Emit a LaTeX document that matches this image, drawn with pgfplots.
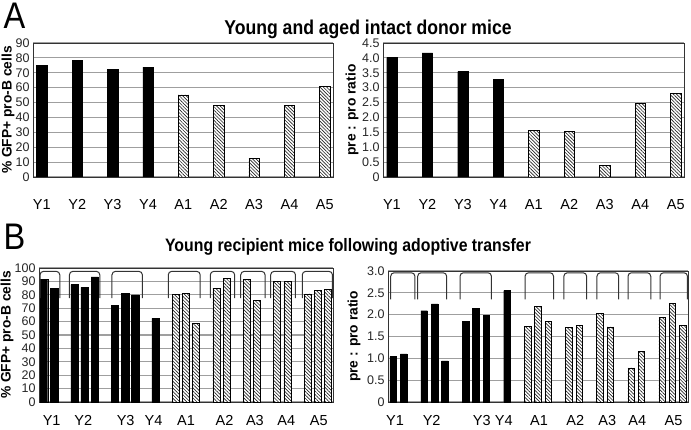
\documentclass[border=0pt]{standalone}
\usepackage{fontspec}
\setmainfont{Liberation Sans}
\newfontfamily\narrowfont[FakeStretch=0.88]{Liberation Sans}
\usepackage{pgfplots}
\pgfplotsset{compat=1.18}
\usetikzlibrary{patterns.meta}

\pgfplotsset{
  panel/.style={
    scale only axis, anchor=south west,
    axis line style={black!80, line width=0.8pt},
    ymajorgrids, grid style={gray!75, line width=1.1pt},
    major tick length=0pt,
    yticklabel style={font=\fontsize{12.5}{12.5}\selectfont, text=black!85},
    xticklabel style={font=\fontsize{14.5}{14.5}\selectfont},
    ylabel style={font=\bfseries\fontsize{13.8}{14}\selectfont, anchor=center},
    /pgf/number format/assume math mode=true,
    ymin=0,
  },
  blackbar/.style={ybar, bar shift=0pt, fill=black, draw=black},
  hatchbar/.style={ybar, bar shift=0pt, fill=white, draw=black, line width=0.7pt,
     postaction={pattern={Lines[angle=-45, distance=2.4pt, line width=0.65pt]}, pattern color=black!85}},
}
\newcommand{\brk}[4]{\addplot[black!80, line width=1pt, sharp plot, no marks, rounded corners=3.5pt] coordinates {(#1,#3) (#1,#4) (#2,#4) (#2,#3)};}

\begin{document}
\begin{tikzpicture}
\useasboundingbox (0pt,0pt) rectangle (691pt,429pt);

% Panel letters and titles
\node[font=\narrowfont\fontsize{37}{37}\selectfont, anchor=west] at (0pt,413pt) {A};
\node[font=\narrowfont\bfseries\fontsize{20}{20}\selectfont] at (368pt,400pt) {Young and aged intact donor mice};
\node[font=\narrowfont\fontsize{37}{37}\selectfont, anchor=west] at (0pt,192pt) {B};
\node[font=\narrowfont\bfseries\fontsize{18}{18}\selectfont] at (348pt,182pt) {Young recipient mice following adoptive transfer};

% A left
\begin{axis}[panel, at={(33pt,252pt)}, width=300pt, height=134pt,
  xmin=-0.25, xmax=8.23, ymax=90, ytick={0,10,...,90},
  xtick={0,...,8}, xticklabels={Y1,Y2,Y3,Y4,A1,A2,A3,A4,A5},
  xticklabel style={yshift=-19pt},
  ylabel={\% GFP+ pro-B cells},
  ylabel style={at={(axis description cs:-0.083,0.5)}}]
\addplot[blackbar, bar width=10.3pt] coordinates {(0,75.2) (1,78.5) (2,72.5) (3,73.8)};
\addplot[hatchbar, bar width=10.3pt] coordinates {(4,55.1) (5,47.9) (6,12.4) (7,48.2) (8,60.8)};
\end{axis}

% A right
\begin{axis}[panel, at={(383pt,252pt)}, width=301pt, height=134pt,
  xmin=-0.25, xmax=8.23, ymax=4.5, ytick={0,0.5,...,4.5},
  yticklabels={0,0.5,1.0,1.5,2.0,2.5,3.0,3.5,4.0,4.5},
  xtick={0,...,8}, xticklabels={Y1,Y2,Y3,Y4,A1,A2,A3,A4,A5},
  xticklabel style={yshift=-19pt},
  ylabel={pre : pro ratio},
  ylabel style={at={(axis description cs:-0.103,0.5)}}]
\addplot[blackbar, bar width=10.3pt] coordinates {(0,4.02) (1,4.17) (2,3.54) (3,3.28)};
\addplot[hatchbar, bar width=10.3pt] coordinates {(4,1.55) (5,1.53) (6,0.38) (7,2.49) (8,2.80)};
\end{axis}

% B left
\begin{axis}[panel, at={(39pt,27pt)}, width=294pt, height=134pt,
  xmin=0, xmax=29, ymax=100, ytick={0,10,...,100},
  xtick={1.25,4.37,8.55,11.3,14.5,18.3,21.3,24.4,27.6},
  xticklabels={Y1,Y2,Y3,Y4,A1,A2,A3,A4,A5},
  xticklabel style={yshift=-10pt},
  ylabel={\% GFP+ pro-B cells},
  ylabel style={at={(axis description cs:-0.109,0.5)}}]
\addplot[blackbar, bar width=7.3pt] coordinates {
  (0.5,91.3) (1.5,84.6)
  (3.5,87.6) (4.5,85.6) (5.5,93.3)
  (7.5,71.9) (8.5,81) (9.5,80)
  (11.5,62.4)};
\addplot[hatchbar, bar width=7pt] coordinates {
  (13.5,80) (14.5,81) (15.5,58.5)
  (17.5,85) (18.5,92.5)
  (20.5,91.3) (21.5,75.6)
  (23.5,90) (24.5,90)
  (26.5,80.6) (27.5,83) (28.5,83.8)};
\brk{0.1}{2.05}{77.5}{97.5}
\brk{3.0}{6.0}{77.5}{97.5}
\brk{7.2}{10.2}{77.5}{97.5}
\brk{12.75}{15.9}{77.5}{97.5}
\brk{16.9}{19.3}{77.5}{97.5}
\brk{19.9}{22.3}{77.5}{97.5}
\brk{22.85}{25.3}{77.5}{97.5}
\brk{25.97}{28.95}{77.5}{97.5}
\end{axis}

% B right
\begin{axis}[panel, at={(388pt,27pt)}, width=300pt, height=131pt,
  xmin=0, xmax=29, ymax=3.0, ytick={0,0.5,...,3.0},
  yticklabels={0,0.5,1.0,1.5,2.0,2.5,3.0},
  xtick={0.68,4.22,9.06,11.2,14.6,18.1,21.2,24.1,27.6},
  xticklabels={Y1,Y2,Y3,Y4,A1,A2,A3,A4,A5},
  xticklabel style={yshift=-10pt},
  ylabel={pre : pro ratio},
  ylabel style={at={(axis description cs:-0.113,0.5)}}]
\addplot[blackbar, bar width=6.5pt] coordinates {
  (0.5,1.04) (1.5,1.10)
  (3.5,2.09) (4.5,2.25) (5.5,0.94)
  (7.5,1.85) (8.5,2.14) (9.5,1.99)
  (11.5,2.55)};
\addplot[hatchbar, bar width=6.5pt] coordinates {
  (13.5,1.74) (14.5,2.19) (15.5,1.84)
  (17.5,1.70) (18.5,1.75)
  (20.5,2.02) (21.5,1.72)
  (23.5,0.78) (24.5,1.16)
  (26.5,1.93) (27.5,2.25) (28.5,1.75)};
\brk{0.26}{2.6}{2.35}{2.96}
\brk{2.87}{5.67}{2.35}{2.96}
\brk{6.96}{10.0}{2.35}{2.96}
\brk{13.25}{16.0}{2.35}{2.96}
\brk{17.0}{19.2}{2.35}{2.96}
\brk{20.2}{22.3}{2.35}{2.96}
\brk{23.2}{25.4}{2.35}{2.96}
\brk{26.3}{28.95}{2.35}{2.96}
\end{axis}
\end{tikzpicture}
\end{document}
